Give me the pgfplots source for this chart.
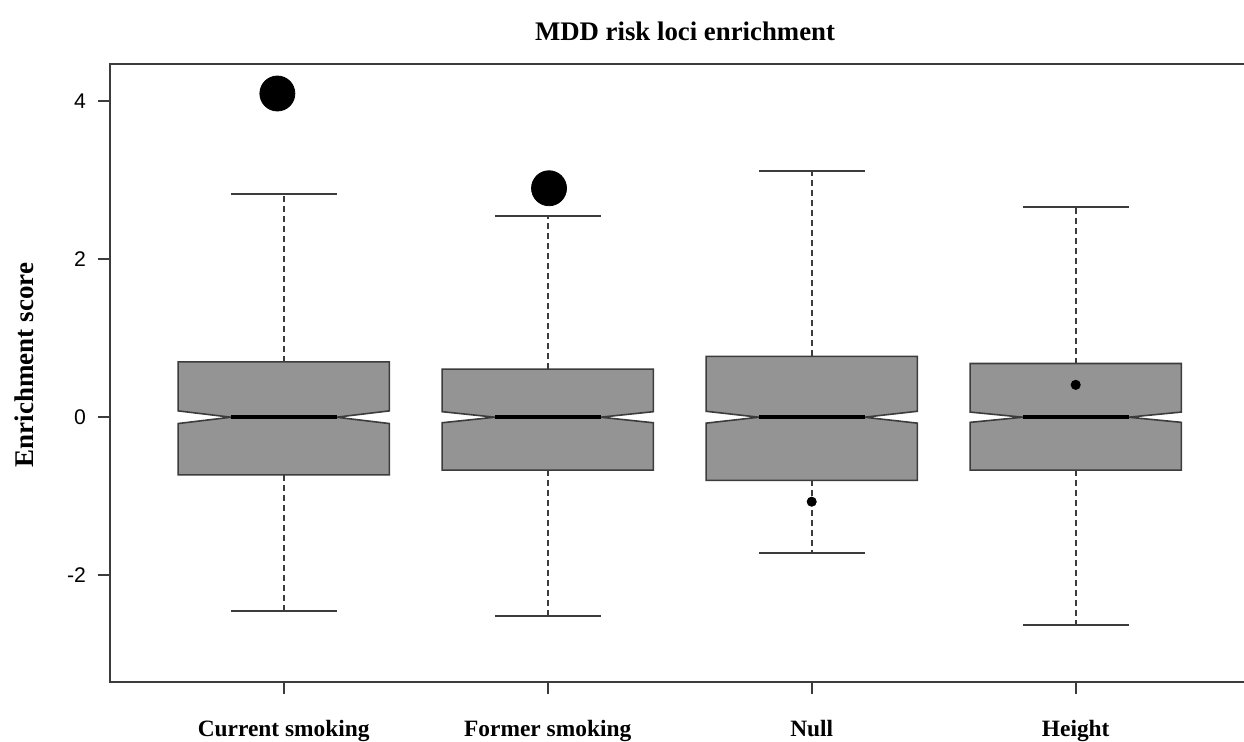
\documentclass[border=0pt]{standalone}
\usepackage{pgfplots}
\pgfplotsset{compat=1.18}
\usepackage{fontspec}
\setmainfont{Liberation Serif}
\newfontfamily\arial{Liberation Sans}
\definecolor{boxgray}{RGB}{148,148,148}
\definecolor{linegray}{RGB}{60,60,60}
\begin{document}
\begin{tikzpicture}
\begin{axis}[
  name=ax,
  scale only axis,
  width=567pt, height=308.7pt,
  xmin=0.342, xmax=4.6375,
  ymin=-3.35, ymax=4.47,
  axis line style={draw=none},
  clip=false,
  xtick={1,2,3,4},
  xticklabels={Current smoking,Former smoking,Null,Height},
  ytick={-2,0,2,4},
  yticklabels={-2,0,2,4},
  xtick pos=bottom, ytick pos=left,
  tick align=outside,
  major tick length=6pt,
  tick style={linegray, line width=1pt},
  xticklabel style={font=\bfseries\fontsize{11.7}{13}\selectfont, anchor=north, yshift=-9.8pt},
  yticklabel style={font=\arial\fontsize{10.6}{12}\selectfont, anchor=east, xshift=-2.5pt},
  ylabel={Enrichment score},
  every axis y label/.style={at={(rel axis cs:0,0.5)}, xshift=-43pt, yshift=4pt, rotate=90, anchor=center, font=\bfseries\fontsize{13.5}{15}\selectfont},
]
% spines (left, top, bottom)
\draw[linegray, line width=1pt] (rel axis cs:1,1) -- (rel axis cs:0,1) -- (rel axis cs:0,0) -- (rel axis cs:1,0);
% title
\node[font=\bfseries\fontsize{13.4}{15}\selectfont] at (axis cs:2.52,4.47) [yshift=16.5pt] {MDD risk loci enrichment};

% ---- whiskers (dashed) ----
\addplot[linegray, line width=1.2pt, dash pattern=on 3pt off 2pt] coordinates {(1,0.70) (1,2.83)};
\addplot[linegray, line width=1.2pt, dash pattern=on 3pt off 2pt] coordinates {(1,-0.73) (1,-2.45)};
\addplot[linegray, line width=1.2pt, dash pattern=on 3pt off 2pt] coordinates {(2,0.61) (2,2.55)};
\addplot[linegray, line width=1.2pt, dash pattern=on 3pt off 2pt] coordinates {(2,-0.67) (2,-2.52)};
\addplot[linegray, line width=1.2pt, dash pattern=on 3pt off 2pt] coordinates {(3,0.77) (3,3.12)};
\addplot[linegray, line width=1.2pt, dash pattern=on 3pt off 2pt] coordinates {(3,-0.80) (3,-1.725)};
\addplot[linegray, line width=1.2pt, dash pattern=on 3pt off 2pt] coordinates {(4,0.68) (4,2.66)};
\addplot[linegray, line width=1.2pt, dash pattern=on 3pt off 2pt] coordinates {(4,-0.67) (4,-2.63)};
% ---- whisker caps ----
\addplot[linegray, line width=1pt] coordinates {(0.8,2.83) (1.2,2.83)};
\addplot[linegray, line width=1pt] coordinates {(0.8,-2.45) (1.2,-2.45)};
\addplot[linegray, line width=1pt] coordinates {(1.8,2.55) (2.2,2.55)};
\addplot[linegray, line width=1pt] coordinates {(1.8,-2.52) (2.2,-2.52)};
\addplot[linegray, line width=1pt] coordinates {(2.8,3.12) (3.2,3.12)};
\addplot[linegray, line width=1pt] coordinates {(2.8,-1.725) (3.2,-1.725)};
\addplot[linegray, line width=1pt] coordinates {(3.8,2.66) (4.2,2.66)};
\addplot[linegray, line width=1pt] coordinates {(3.8,-2.63) (4.2,-2.63)};

% ---- notched boxes ----
\addplot[fill=boxgray, draw=linegray, line width=0.8pt] coordinates {
 (0.6,-0.73) (0.6,-0.08) (0.8,0) (0.6,0.08) (0.6,0.70) (1.4,0.70) (1.4,0.08) (1.2,0) (1.4,-0.08) (1.4,-0.73)} --cycle;
\addplot[fill=boxgray, draw=linegray, line width=0.8pt] coordinates {
 (1.6,-0.67) (1.6,-0.07) (1.8,0) (1.6,0.07) (1.6,0.61) (2.4,0.61) (2.4,0.07) (2.2,0) (2.4,-0.07) (2.4,-0.67)} --cycle;
\addplot[fill=boxgray, draw=linegray, line width=0.8pt] coordinates {
 (2.6,-0.80) (2.6,-0.075) (2.8,0) (2.6,0.075) (2.6,0.77) (3.4,0.77) (3.4,0.075) (3.2,0) (3.4,-0.075) (3.4,-0.80)} --cycle;
\addplot[fill=boxgray, draw=linegray, line width=0.8pt] coordinates {
 (3.6,-0.67) (3.6,-0.065) (3.8,0) (3.6,0.065) (3.6,0.68) (4.4,0.68) (4.4,0.065) (4.2,0) (4.4,-0.065) (4.4,-0.67)} --cycle;

% ---- medians ----
\addplot[black, line width=2pt] coordinates {(0.8,0) (1.2,0)};
\addplot[black, line width=2pt] coordinates {(1.8,0) (2.2,0)};
\addplot[black, line width=2pt] coordinates {(2.8,0) (3.2,0)};
\addplot[black, line width=2pt] coordinates {(3.8,0) (4.2,0)};

% ---- outliers / points ----
\addplot[only marks, mark=*, mark size=8.75pt, black] coordinates {(0.976,4.10) (2.005,2.90)};
\addplot[only marks, mark=*, mark size=2.3pt, black] coordinates {(3,-1.07) (4,0.41)};
\end{axis}
\pgfresetboundingbox
\path[use as bounding box] ([xshift=-55pt,yshift=-29.65pt]ax.south west) rectangle ([yshift=32.15pt]ax.north east);
\end{tikzpicture}
\end{document}
